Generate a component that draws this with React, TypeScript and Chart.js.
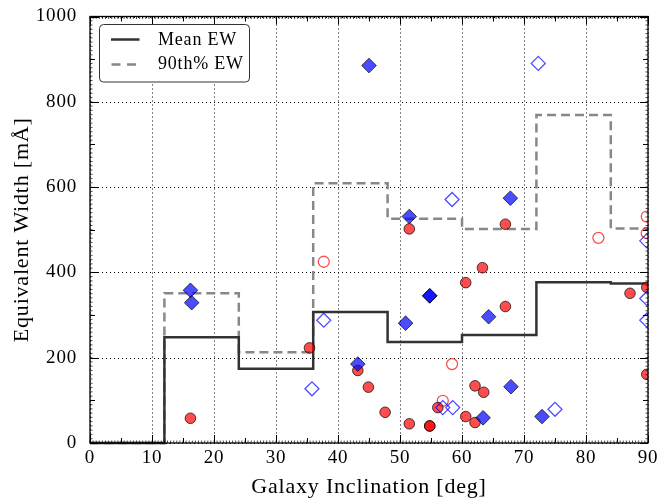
import React, { useEffect, useRef } from 'react';
import { Chart, registerables } from 'chart.js';

Chart.register(...registerables);

// Step histograms (left bin edges + final right edge)
const binEdges = [0, 12, 24, 36, 48, 60, 72, 84, 90];
const meanEW = [0, 248, 174, 307, 237, 253, 377, 374];
const p90EW = [0, 351, 213, 609, 526, 502, 769, 503];

// Filled red circles
const redFilledX = [16.2, 35.4, 43.2, 44.9, 47.6, 51.5, 54.8, 54.8, 51.5, 56.1, 60.6, 60.6, 62.1, 62.1, 63.3, 63.5, 67.0, 67.0, 87.1, 89.8, 89.8];
const redFilledY = [58, 223, 170, 131, 72, 45, 40, 40, 502, 83, 376, 62, 48, 134, 411, 119, 513, 320, 351, 365, 161];

// Open red circles
const redOpenX = [37.7, 58.4, 56.9, 82.0, 89.8, 89.8];
const redOpenY = [425, 185, 99, 481, 531, 492];

// Filled blue diamonds
const blueFilledX = [16.2, 16.4, 43.2, 50.9, 54.8, 54.8, 51.5, 45.0, 67.8, 64.3, 67.9, 63.4, 72.9];
const blueFilledY = [358, 329, 185, 281, 345, 345, 531, 885, 574, 296, 132, 59, 62];

// Open blue diamonds
const blueOpenX = [35.8, 37.7, 58.4, 56.9, 58.5, 72.3, 75.0, 89.8, 89.8, 89.8];
const blueOpenY = [127, 288, 571, 83, 83, 890, 79, 474, 339, 288];

const xTicks = [0, 10, 20, 30, 40, 50, 60, 70, 80, 90];
const yTicks = [0, 200, 400, 600, 800, 1000];

const legendLabels = ['Mean EW', '90th% EW'];

const FONT = '"Liberation Serif", "DejaVu Serif", serif';
const SPACING = '0.8px';

const zip = (xs: number[], ys: number[]) => xs.map((x, i) => ({ x, y: ys[i] }));
const steps = (edges: number[], vals: number[]) =>
  edges.map((e, i) => ({ x: e, y: vals[Math.min(i, vals.length - 1)] }));

const spacingPlugin = {
  id: 'spacingPlugin',
  beforeInit(chart: any) { chart.ctx.letterSpacing = SPACING; },
  beforeLayout(chart: any) { chart.ctx.letterSpacing = SPACING; },
  beforeDraw(chart: any) { chart.ctx.letterSpacing = SPACING; },
};

const framePlugin = {
  id: 'framePlugin',
  beforeDatasetsDraw(chart: any) {
    const { ctx, chartArea: a, scales } = chart;
    const xs = scales.x, ys = scales.y;
    ctx.save();
    ctx.strokeStyle = '#000';
    ctx.lineWidth = 1;
    ctx.setLineDash([1, 3]);
    xTicks.forEach((t) => {
      const px = Math.round(xs.getPixelForValue(t)) + 0.5;
      ctx.beginPath();
      ctx.moveTo(px, a.top);
      ctx.lineTo(px, a.bottom);
      ctx.stroke();
    });
    yTicks.forEach((t) => {
      const py = Math.round(ys.getPixelForValue(t)) + 0.5;
      ctx.beginPath();
      ctx.moveTo(a.left, py);
      ctx.lineTo(a.right, py);
      ctx.stroke();
    });
    ctx.restore();
  },
  afterDatasetsDraw(chart: any) {
    const { ctx, chartArea: a, scales } = chart;
    const xs = scales.x, ys = scales.y;
    ctx.save();
    ctx.setLineDash([]);
    ctx.strokeStyle = '#000';
    // minor ticks
    ctx.lineWidth = 0.7;
    for (let v = 0; v <= 90.001; v += 0.5) {
      const px = xs.getPixelForValue(v);
      ctx.beginPath();
      ctx.moveTo(px, a.bottom); ctx.lineTo(px, a.bottom - 2.5);
      ctx.moveTo(px, a.top); ctx.lineTo(px, a.top + 2.5);
      ctx.stroke();
    }
    for (let v = 0; v <= 1000.001; v += 10) {
      const py = ys.getPixelForValue(v);
      ctx.beginPath();
      ctx.moveTo(a.left, py); ctx.lineTo(a.left + 2.5, py);
      ctx.moveTo(a.right, py); ctx.lineTo(a.right - 2.5, py);
      ctx.stroke();
    }
    // medium and major ticks
    ctx.lineWidth = 1;
    for (let v = 0; v <= 90.001; v += 5) {
      const px = Math.round(xs.getPixelForValue(v)) + 0.5;
      const len = v % 10 === 0 ? 8 : 5;
      ctx.beginPath();
      ctx.moveTo(px, a.bottom); ctx.lineTo(px, a.bottom - len);
      ctx.moveTo(px, a.top); ctx.lineTo(px, a.top + len);
      ctx.stroke();
    }
    for (let v = 0; v <= 1000.001; v += 100) {
      const py = Math.round(ys.getPixelForValue(v)) + 0.5;
      const len = v % 200 === 0 ? 8 : 5;
      ctx.beginPath();
      ctx.moveTo(a.left, py); ctx.lineTo(a.left + len, py);
      ctx.moveTo(a.right, py); ctx.lineTo(a.right - len, py);
      ctx.stroke();
    }
    // frame
    ctx.lineWidth = 1.3;
    ctx.strokeRect(a.left, a.top, a.right - a.left, a.bottom - a.top);

    // legend
    const lx = 99.5, ly = 24.5, lw = 150, lh = 57.5;
    ctx.beginPath();
    ctx.roundRect(lx, ly, lw, lh, 4);
    ctx.fillStyle = '#fff';
    ctx.fill();
    ctx.strokeStyle = '#333';
    ctx.lineWidth = 1;
    ctx.stroke();

    ctx.lineWidth = 2.5;
    ctx.strokeStyle = '#333';
    ctx.beginPath();
    ctx.moveTo(111, 39.5); ctx.lineTo(139.5, 39.5);
    ctx.stroke();
    ctx.strokeStyle = '#888';
    ctx.setLineDash([9, 6.5]);
    ctx.beginPath();
    ctx.moveTo(111.5, 64.5); ctx.lineTo(139.5, 64.5);
    ctx.stroke();
    ctx.setLineDash([]);

    ctx.fillStyle = '#000';
    ctx.font = `18px ${FONT}`;
    ctx.letterSpacing = SPACING;
    ctx.textBaseline = 'middle';
    ctx.textAlign = 'left';
    ctx.fillText(legendLabels[0], 158, 40);
    ctx.fillText(legendLabels[1], 158, 64.5);
    ctx.restore();
  },
};

export default function App() {
  const ref = useRef<HTMLCanvasElement | null>(null);

  useEffect(() => {
    document.body.style.margin = '0';
    if (!ref.current) return;
    const chart = new Chart(ref.current, {
      type: 'scatter',
      data: {
        datasets: [
          {
            label: 'blueFilled',
            data: zip(blueFilledX, blueFilledY),
            pointStyle: 'rectRot',
            pointRadius: 7.3,
            backgroundColor: 'rgba(0,0,255,0.7)',
            borderColor: 'rgba(0,0,0,0.7)',
            borderWidth: 1,
            order: 0,
            clip: 0,
          } as any,
          {
            label: 'blueOpen',
            data: zip(blueOpenX, blueOpenY),
            pointStyle: 'rectRot',
            pointRadius: 7,
            backgroundColor: 'rgba(0,0,0,0)',
            borderColor: 'rgba(0,0,255,0.7)',
            borderWidth: 1.3,
            order: 1,
            clip: 0,
          } as any,
          {
            label: 'redFilled',
            data: zip(redFilledX, redFilledY),
            pointStyle: 'circle',
            pointRadius: 5.3,
            backgroundColor: 'rgba(255,0,0,0.7)',
            borderColor: 'rgba(0,0,0,0.7)',
            borderWidth: 1,
            order: 2,
            clip: 0,
          } as any,
          {
            label: 'redOpen',
            data: zip(redOpenX, redOpenY),
            pointStyle: 'circle',
            pointRadius: 5.5,
            backgroundColor: 'rgba(0,0,0,0)',
            borderColor: 'rgba(255,0,0,0.7)',
            borderWidth: 1.3,
            order: 3,
            clip: 0,
          } as any,
          {
            label: legendLabels[0],
            data: steps(binEdges, meanEW),
            showLine: true,
            stepped: true,
            borderColor: '#333',
            borderWidth: 2.5,
            pointRadius: 0,
            fill: false,
            order: 4,
            clip: 3,
          } as any,
          {
            label: legendLabels[1],
            data: steps(binEdges, p90EW),
            showLine: true,
            stepped: true,
            borderColor: '#888',
            borderWidth: 2.5,
            borderDash: [9, 5],
            pointRadius: 0,
            fill: false,
            order: 5,
            clip: 3,
          } as any,
        ],
      },
      options: {
        animation: false,
        responsive: false,
        devicePixelRatio: 1,
        events: [],
        layout: { padding: { top: 16.5, right: 10, left: 0, bottom: 0 } },
        plugins: { legend: { display: false }, tooltip: { enabled: false } },
        scales: {
          x: {
            type: 'linear',
            min: 0,
            max: 90,
            afterBuildTicks: (s: any) => { s.ticks = xTicks.map((v) => ({ value: v })); },
            afterFit: (s: any) => { s.height = 56; },
            ticks: {
              font: { family: FONT, size: 19, lineHeight: 1.2 },
              color: '#000',
              padding: -4,
              maxRotation: 0,
              callback: (v: any) => String(v),
            },
            grid: { display: false },
            border: { display: false },
            title: {
              display: true,
              text: 'Galaxy Inclination [deg]',
              font: { family: FONT, size: 22, lineHeight: 1 },
              color: '#000',
              padding: { top: 0, bottom: 1 },
            },
          },
          y: {
            type: 'linear',
            min: 0,
            max: 1000,
            afterBuildTicks: (s: any) => { s.ticks = yTicks.map((v) => ({ value: v })); },
            afterFit: (s: any) => { s.width = 90; },
            ticks: {
              font: { family: FONT, size: 19 },
              color: '#000',
              padding: 5,
              callback: (v: any) => String(v),
            },
            grid: { display: false },
            border: { display: false },
            title: {
              display: true,
              text: 'Equivalent Width [mÅ]',
              font: { family: FONT, size: 22, lineHeight: 1 },
              color: '#000',
              padding: { top: 11, bottom: 0 },
            },
          },
        },
      } as any,
      plugins: [spacingPlugin, framePlugin],
    });
    return () => chart.destroy();
  }, []);

  return (
    <div style={{ width: 658, height: 499 }}>
      <canvas ref={ref} width={658} height={499} style={{ display: 'block', width: 658, height: 499 }} />
    </div>
  );
}
